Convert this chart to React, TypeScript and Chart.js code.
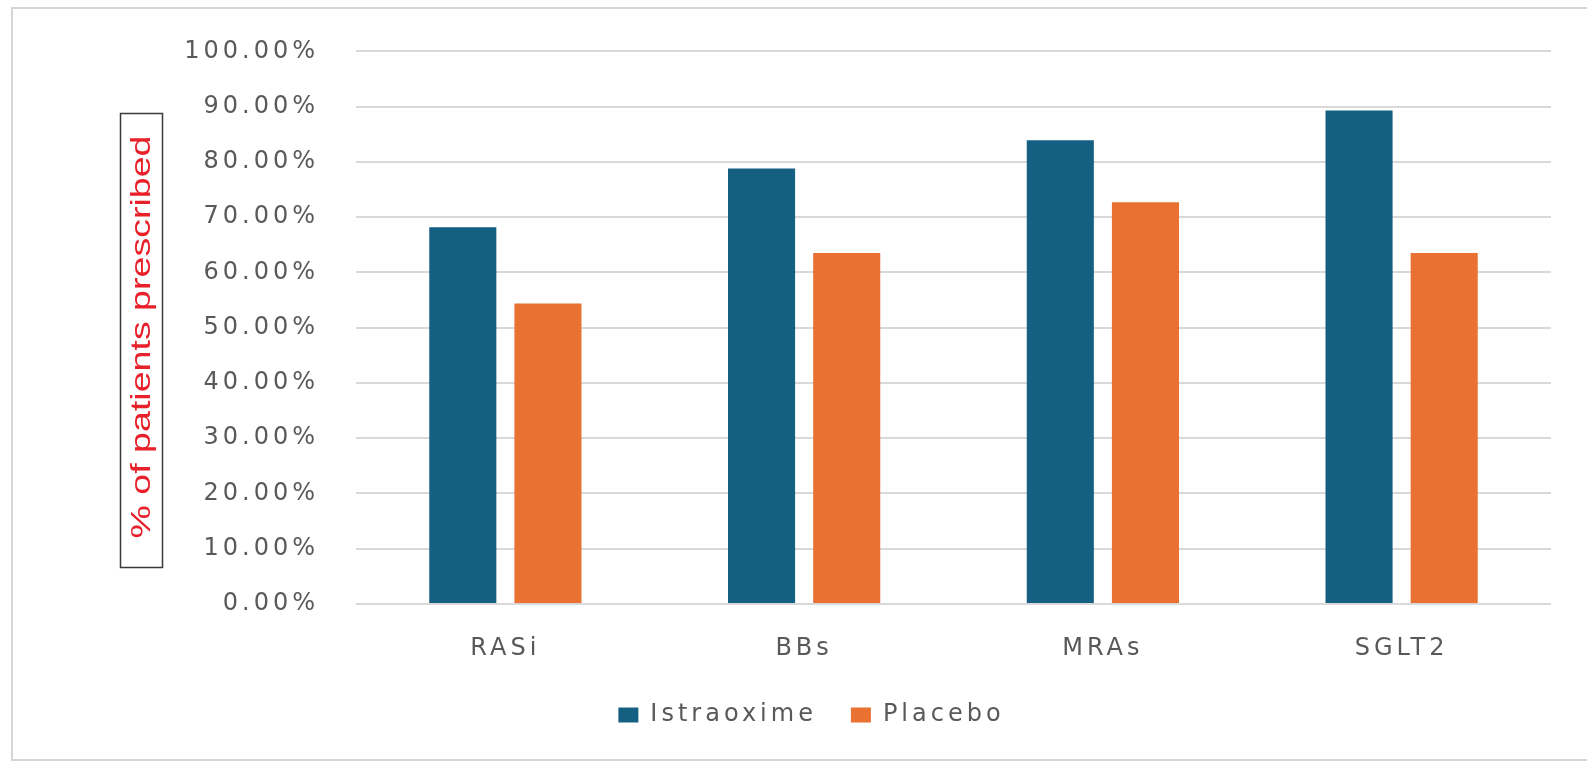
import React, { useEffect, useRef } from "react";
import { Chart, registerables } from "chart.js";

Chart.register(...registerables);

const CATEGORIES = ["RASi", "BBs", "MRAs", "SGLT2"];
const ISTRAOXIME = [68.2, 78.8, 83.9, 89.3];
const PLACEBO = [54.4, 63.5, 72.7, 63.5];
const SERIES_NAMES = ["Istraoxime", "Placebo"];
const Y_TITLE = "% of patients prescribed";
const Y_MIN = 0;
const Y_MAX = 100;
const Y_STEP = 10;

const W = 1587;
const H = 761;
const TEXT_COLOR = "#595959";
const GRID_COLOR = "#d9d9d9";
const LETTER_SPACING = "4px";
const FONT_FAMILY = '"DejaVu Sans", sans-serif';

const spacingPlugin = {
  id: "letterSpacing",
  beforeUpdate(chart: any) {
    chart.ctx.letterSpacing = LETTER_SPACING;
  },
  beforeDraw(chart: any) {
    chart.ctx.letterSpacing = LETTER_SPACING;
  },
};

const titlePlugin = {
  id: "boxedTitle",
  afterDraw(chart: any) {
    const ctx = chart.ctx as CanvasRenderingContext2D;
    ctx.save();
    (ctx as any).letterSpacing = "0px";
    ctx.strokeStyle = "#3a3a3a";
    ctx.lineWidth = 1.5;
    ctx.strokeRect(120.5, 113.5, 42, 454);
    ctx.font = '28px "Liberation Sans", Arial, sans-serif';
    const w = ctx.measureText(Y_TITLE).width;
    const stretch = 403 / w;
    ctx.translate(142, 337);
    ctx.rotate(-Math.PI / 2);
    ctx.scale(stretch, 1);
    ctx.fillStyle = "#e8202a";
    ctx.textAlign = "center";
    ctx.textBaseline = "middle";
    ctx.fillText(Y_TITLE, 0, 0);
    ctx.restore();
  },
};

export default function App() {
  const canvasRef = useRef<HTMLCanvasElement | null>(null);

  useEffect(() => {
    document.body.style.margin = "0";
    const canvas = canvasRef.current;
    if (!canvas) return;
    const chart = new Chart(canvas, {
      type: "bar",
      data: {
        labels: CATEGORIES,
        datasets: [
          {
            label: SERIES_NAMES[0],
            data: ISTRAOXIME,
            backgroundColor: "#156082",
            borderWidth: 0,
            categoryPercentage: 0.57,
            barPercentage: 0.788,
          },
          {
            label: SERIES_NAMES[1],
            data: PLACEBO,
            backgroundColor: "#E97132",
            borderWidth: 0,
            categoryPercentage: 0.57,
            barPercentage: 0.788,
          },
        ],
      },
      options: {
        responsive: false,
        animation: false,
        devicePixelRatio: 1,
        layout: { padding: { left: 72, right: 36, top: 46, bottom: 24 } },
        plugins: {
          title: { display: false },
          tooltip: { enabled: false },
          legend: {
            display: true,
            position: "bottom",
            labels: {
              color: TEXT_COLOR,
              font: { family: FONT_FAMILY, size: 24 },
              boxWidth: 20,
              boxHeight: 15,
              padding: 34,
            },
          },
        },
        scales: {
          x: {
            grid: { display: false, drawTicks: false },
            border: { display: false },
            ticks: {
              color: TEXT_COLOR,
              font: { family: FONT_FAMILY, size: 24 },
              padding: 30,
            },
            afterFit: (scale: any) => {
              scale.height = 65;
            },
          },
          y: {
            min: Y_MIN,
            max: Y_MAX,
            grid: { color: GRID_COLOR, lineWidth: 2, drawTicks: false },
            border: { display: false },
            ticks: {
              stepSize: Y_STEP,
              color: TEXT_COLOR,
              font: { family: FONT_FAMILY, size: 24 },
              padding: 37,
              callback: (v: any) => Number(v).toFixed(2) + "%",
            },
            afterFit: (scale: any) => {
              scale.width = 284;
            },
          },
        },
      },
      plugins: [spacingPlugin, titlePlugin],
    });
    return () => chart.destroy();
  }, []);

  return (
    <div
      style={{
        position: "relative",
        width: W,
        height: H,
        overflow: "hidden",
        background: "#ffffff",
      }}
    >
      <div
        style={{
          position: "absolute",
          left: 11,
          top: 7,
          width: 1650,
          height: 750,
          border: "2px solid #d6d6d6",
        }}
      />
      <canvas
        ref={canvasRef}
        width={W}
        height={H}
        style={{ position: "absolute", left: 0, top: 0, width: W, height: H }}
      />
    </div>
  );
}
